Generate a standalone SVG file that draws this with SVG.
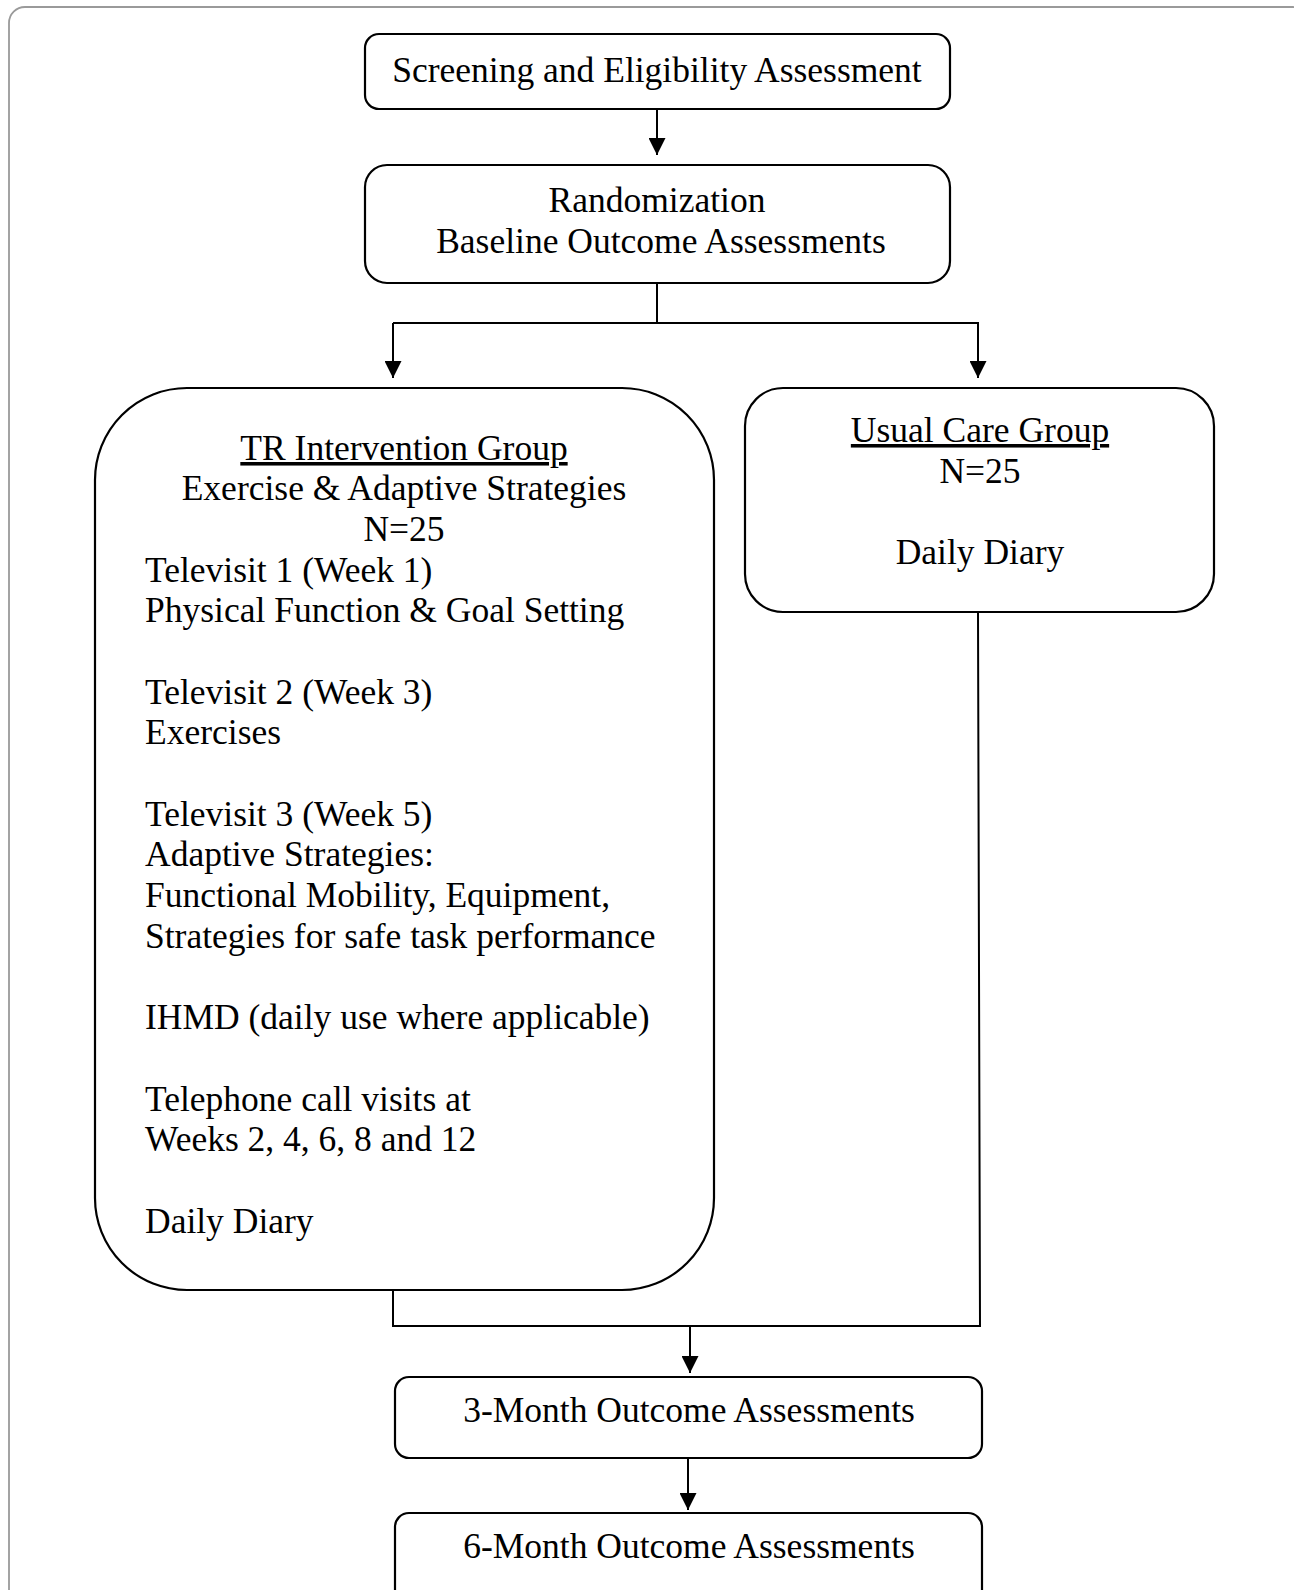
<svg xmlns="http://www.w3.org/2000/svg" width="1294" height="1590" viewBox="0 0 1294 1590">
<style>
.box{fill:#fff;stroke:#000;stroke-width:2.2}
.t{font-family:"Liberation Serif","Times New Roman",serif;font-size:35.5px;fill:#000}
.c{text-anchor:middle}
.u{text-decoration:underline}
.ln{fill:none;stroke:#000;stroke-width:2}
</style>
<defs>
<marker id="ah" markerWidth="17" markerHeight="17" viewBox="0 0 17 17" refX="17" refY="8.5" orient="auto" markerUnits="userSpaceOnUse">
<path d="M0,0 L17,8.5 L0,17 Z" fill="#000"/>
</marker>
</defs>
<rect x="0" y="0" width="1294" height="1590" fill="#fff"/>
<rect x="9" y="7" width="1300" height="1620" rx="16" fill="none" stroke="#9a9a9a" stroke-width="1.8"/>
<g id="connectors">
<line class="ln" x1="657" y1="109" x2="657" y2="155" marker-end="url(#ah)"/>
<polyline class="ln" points="657,283 657,323"/>
<polyline class="ln" points="393,323 979,323"/>
<line class="ln" x1="393" y1="323" x2="393" y2="378" marker-end="url(#ah)"/>
<line class="ln" x1="978" y1="323" x2="978" y2="378" marker-end="url(#ah)"/>
<polyline class="ln" points="393,1290 393,1326 980,1326 978,612"/>
<line class="ln" x1="690" y1="1326" x2="690" y2="1373" marker-end="url(#ah)"/>
<line class="ln" x1="688" y1="1458" x2="688" y2="1510" marker-end="url(#ah)"/>
</g>
<g id="screening">
<rect class="box" x="365" y="34" width="585" height="75" rx="14"/>
<text class="t c" x="657" y="82">Screening and Eligibility Assessment</text>
</g>
<g id="randomization">
<rect class="box" x="365" y="165" width="585" height="118" rx="22"/>
<text class="t c" x="657" y="212">Randomization</text>
<text class="t c" x="661" y="253">Baseline Outcome Assessments</text>
</g>
<g id="tr-group">
<rect class="box" x="95" y="388" width="619" height="902" rx="92"/>
<text class="t c u" x="404" y="460">TR Intervention Group</text>
<text class="t c" x="404" y="500">Exercise &amp; Adaptive Strategies</text>
<text class="t c" x="404" y="541">N=25</text>
<text class="t" x="145" y="582">Televisit 1 (Week 1)</text>
<text class="t" x="145" y="622">Physical Function &amp; Goal Setting</text>
<text class="t" x="145" y="704">Televisit 2 (Week 3)</text>
<text class="t" x="145" y="744">Exercises</text>
<text class="t" x="145" y="826">Televisit 3 (Week 5)</text>
<text class="t" x="145" y="866">Adaptive Strategies:</text>
<text class="t" x="145" y="907">Functional Mobility, Equipment,</text>
<text class="t" x="145" y="948">Strategies for safe task performance</text>
<text class="t" x="145" y="1029">IHMD (daily use where applicable)</text>
<text class="t" x="145" y="1111">Telephone call visits at</text>
<text class="t" x="145" y="1151">Weeks 2, 4, 6, 8 and 12</text>
<text class="t" x="145" y="1233">Daily Diary</text>
</g>
<g id="usual-care">
<rect class="box" x="745" y="388" width="469" height="224" rx="38"/>
<text class="t c u" x="980" y="442">Usual Care Group</text>
<text class="t c" x="980" y="483">N=25</text>
<text class="t c" x="980" y="564">Daily Diary</text>
</g>
<g id="three-month">
<rect class="box" x="395" y="1377" width="587" height="81" rx="14"/>
<text class="t c" x="689" y="1422">3-Month Outcome Assessments</text>
</g>
<g id="six-month">
<rect class="box" x="395" y="1513" width="587" height="100" rx="14"/>
<text class="t c" x="689" y="1558">6-Month Outcome Assessments</text>
</g>
</svg>
